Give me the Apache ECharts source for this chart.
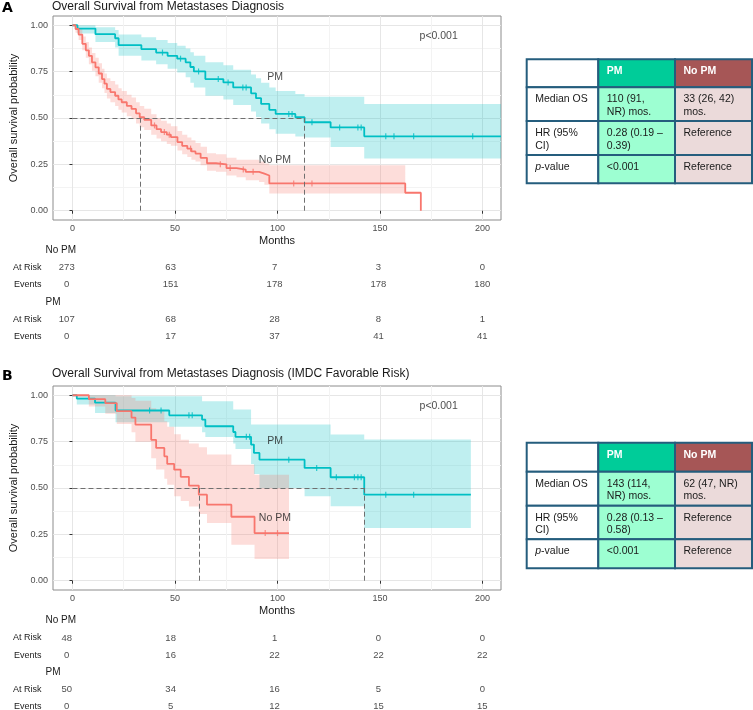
<!DOCTYPE html>
<html><head><meta charset="utf-8">
<script src="https://cdn.jsdelivr.net/npm/echarts@6/dist/echarts.min.js"></script>
<style>html,body{margin:0;padding:0;background:#fff}#c{width:753px;height:710px}</style>
</head><body><div id="c"></div>
<script>
// ================= DATA =================
const xTicks = [0, 50, 100, 150, 200];
const xMinorTicks = [25, 75, 125, 175];
const yTicks = [0, 0.25, 0.5, 0.75, 1];
const yMinorTicks = [0.125, 0.375, 0.625, 0.875];
const yTickLabels = ['0.00', '0.25', '0.50', '0.75', '1.00'];
const riskTimes = [0, 50, 100, 150, 200];

// Panel A: PM
const aPmTime  = [0, 2.4, 11.2, 20.8, 22.5, 33.6, 40.8, 46.4, 51.1, 55.2, 57.5, 59.2, 64.8, 73.6, 78.4, 87.1, 89.5, 92, 96, 99.1, 108.7, 113.2, 125.9, 142.3, 209];
const aPmSurv  = [1, 0.982, 0.952, 0.93, 0.893, 0.871, 0.853, 0.835, 0.82, 0.80, 0.775, 0.751, 0.71, 0.692, 0.665, 0.633, 0.607, 0.576, 0.544, 0.522, 0.504, 0.477, 0.449, 0.401, 0.401];
const aPmLower = [1, 0.955, 0.91, 0.88, 0.835, 0.81, 0.79, 0.765, 0.745, 0.72, 0.69, 0.665, 0.62, 0.60, 0.57, 0.535, 0.505, 0.47, 0.44, 0.415, 0.40, 0.395, 0.343, 0.281, 0.281];
const aPmUpper = [1, 1, 0.99, 0.975, 0.95, 0.935, 0.92, 0.905, 0.89, 0.875, 0.855, 0.835, 0.80, 0.785, 0.76, 0.735, 0.715, 0.69, 0.665, 0.645, 0.63, 0.615, 0.615, 0.576, 0.576];
const aPmCensor = [43.9, 52.7, 61.5, 71.1, 75.9, 83.1, 84.7, 105.5, 107.1, 116.8, 130.3, 139.2, 140.8, 152.8, 156.8, 166.4, 195.2];

// Panel A: No PM
const aNoTime  = [0, 1.5, 3, 4.8, 6.5, 8, 9.5, 11.2, 12.8, 14.4, 15.6, 16.8, 18.5, 20.8, 22.4, 24, 26.5, 28.8, 31, 32.8, 35, 38.4, 41, 43.2, 46, 48, 51.2, 53.5, 56, 58, 60, 62.5, 65.6, 70, 75.1, 80, 84.5, 91, 93.6, 96, 162.3, 169.9];
const aNoSurv  = [1, 0.98, 0.95, 0.90, 0.865, 0.835, 0.80, 0.773, 0.74, 0.71, 0.685, 0.657, 0.64, 0.62, 0.60, 0.585, 0.565, 0.549, 0.525, 0.504, 0.49, 0.46, 0.44, 0.424, 0.41, 0.397, 0.37, 0.35, 0.335, 0.32, 0.308, 0.285, 0.256, 0.25, 0.23, 0.222, 0.21, 0.20, 0.19, 0.147, 0.097, 0];
const aNoLower = [1, 0.96, 0.92, 0.865, 0.825, 0.79, 0.755, 0.725, 0.69, 0.66, 0.635, 0.605, 0.585, 0.565, 0.545, 0.53, 0.51, 0.495, 0.47, 0.45, 0.435, 0.41, 0.39, 0.375, 0.36, 0.35, 0.325, 0.305, 0.29, 0.275, 0.265, 0.245, 0.215, 0.21, 0.19, 0.18, 0.165, 0.155, 0.14, 0.093, 0.093];
const aNoUpper = [1, 1, 0.985, 0.94, 0.91, 0.88, 0.85, 0.825, 0.795, 0.765, 0.74, 0.715, 0.70, 0.68, 0.66, 0.645, 0.625, 0.61, 0.585, 0.565, 0.55, 0.52, 0.50, 0.485, 0.47, 0.455, 0.43, 0.41, 0.395, 0.38, 0.365, 0.345, 0.31, 0.305, 0.285, 0.275, 0.275, 0.265, 0.255, 0.245, 0.245];
const aNoCensor = [40, 44.8, 47.2, 57.6, 72.1, 76.9, 83.3, 88.1, 107.9, 116.8];

const aMedians = [33, 113.2];

// Panel B: PM
const bPmTime  = [0, 2.1, 11, 21, 47.2, 63.2, 64.8, 78.4, 79.5, 87.1, 88.5, 91.2, 113.2, 125.9, 142.3, 194.3];
const bPmSurv  = [1, 0.982, 0.96, 0.918, 0.892, 0.869, 0.833, 0.802, 0.776, 0.734, 0.689, 0.653, 0.608, 0.558, 0.464, 0.464];
const bPmLower = [1, 0.95, 0.905, 0.855, 0.83, 0.80, 0.775, 0.74, 0.71, 0.63, 0.575, 0.50, 0.455, 0.401, 0.284, 0.284];
const bPmUpper = [1, 1, 1, 0.995, 0.995, 0.968, 0.968, 0.923, 0.923, 0.842, 0.842, 0.842, 0.842, 0.788, 0.761, 0.761];
const bPmCensor = [37.6, 43.2, 56.8, 58.4, 84.8, 86.4, 105.5, 119.1, 128.7, 137.5, 139.2, 140.8, 152.8, 166.4];

// Panel B: No PM
const bNoTime  = [0, 8, 16, 21.6, 28.8, 30.7, 38.4, 40.8, 44.8, 46.2, 49.6, 52.8, 56.8, 61.6, 65.6, 77.5, 88.8, 105.6];
const bNoSurv  = [1, 0.979, 0.958, 0.914, 0.88, 0.842, 0.76, 0.716, 0.671, 0.63, 0.599, 0.56, 0.513, 0.464, 0.41, 0.345, 0.257, 0.257];
const bNoLower = [1, 0.94, 0.90, 0.845, 0.80, 0.75, 0.66, 0.60, 0.55, 0.518, 0.455, 0.43, 0.40, 0.36, 0.311, 0.194, 0.117, 0.117];
const bNoUpper = [1, 1, 1, 1, 0.985, 0.97, 0.93, 0.92, 0.86, 0.83, 0.79, 0.76, 0.74, 0.72, 0.68, 0.625, 0.572, 0.572];
const bNoCensor = [94, 100];

const bMedians = [61.6, 142.3];

// Risk tables
const aNoAtRisk = [273, 63, 7, 3, 0];
const aNoEvents = [0, 151, 178, 178, 180];
const aPmAtRisk = [107, 68, 28, 8, 1];
const aPmEvents = [0, 17, 37, 41, 41];
const bNoAtRisk = [48, 18, 1, 0, 0];
const bNoEvents = [0, 16, 22, 22, 22];
const bPmAtRisk = [50, 34, 16, 5, 0];
const bPmEvents = [0, 5, 12, 15, 15];

// Summary tables
const tableHeader = ['', 'PM', 'No PM'];
const tableARows = [
  ['Median OS', '110 (91,\nNR) mos.', '33 (26, 42)\nmos.'],
  ['HR (95%\nCI)', '0.28 (0.19 \u2013\n0.39)', 'Reference'],
  ['{i|p}-value', '<0.001', 'Reference']
];
const tableBRows = [
  ['Median OS', '143 (114,\nNR) mos.', '62 (47, NR)\nmos.'],
  ['HR (95%\nCI)', '0.28 (0.13 \u2013\n0.58)', 'Reference'],
  ['{i|p}-value', '<0.001', 'Reference']
];

const titleA = 'Overall Survival from Metastases Diagnosis';
const titleB = 'Overall Survival from Metastases Diagnosis (IMDC Favorable Risk)';
const pText = 'p<0.001';

// ================= STYLE / LAYOUT =================
const FONT = "'Liberation Sans', Arial, Helvetica, sans-serif";
const COL_PM = '#00BFC4', COL_NO = '#F8766D';
const X_MIN = -9.5, X_MAX = 209, Y_MIN = -0.05, Y_MAX = 1.05;

function pairs(xs, ys) { return xs.map((x, i) => [x, ys[i]]); }
function stepAt(times, surv, t) { let v = surv[0]; for (let i = 0; i < times.length; i++) if (times[i] <= t) v = surv[i]; return v; }

const grids = [
  {left: 47, top: 16, width: 454, height: 204, show: true, borderColor: '#8c8c8c', borderWidth: 1, backgroundColor: '#fff'},
  {left: 47, top: 250, width: 454, height: 86.5},
  {left: 47, top: 386, width: 454, height: 204, show: true, borderColor: '#8c8c8c', borderWidth: 1, backgroundColor: '#fff'},
  {left: 47, top: 620.7, width: 454, height: 86}
];

const xAxes = [], yAxes = [];
function addPlotAxes(gi) {
  xAxes.push({gridIndex: gi, type: 'value', min: X_MIN, max: X_MAX,
    axisLine: {show: false},
    axisTick: {show: true, length: 3, lineStyle: {color: '#333'}, customValues: xTicks},
    axisLabel: {customValues: xTicks, color: '#4d4d4d', fontSize: 9, margin: 4, fontFamily: FONT},
    splitLine: {show: true, lineStyle: {color: '#e6e6e6', width: 1}},
    name: 'Months', nameLocation: 'middle', nameGap: 15,
    nameTextStyle: {color: '#1a1a1a', fontSize: 11, fontFamily: FONT}});
  xAxes.push({gridIndex: gi, type: 'value', min: X_MIN, max: X_MAX, position: 'bottom',
    axisLine: {show: false}, axisTick: {show: false, customValues: xMinorTicks},
    axisLabel: {show: false, customValues: xMinorTicks},
    splitLine: {show: true, lineStyle: {color: '#f3f3f3', width: 1}}});
  yAxes.push({gridIndex: gi, type: 'value', min: Y_MIN, max: Y_MAX,
    axisLine: {show: false},
    axisTick: {show: true, length: 3, lineStyle: {color: '#333'}, customValues: yTicks},
    axisLabel: {customValues: yTicks, color: '#4d4d4d', fontSize: 9, margin: 5, fontFamily: FONT,
      formatter: v => yTickLabels[yTicks.indexOf(v)]},
    splitLine: {show: true, lineStyle: {color: '#e6e6e6', width: 1}},
    name: 'Overall survival probability', nameLocation: 'middle', nameGap: 34,
    nameTextStyle: {color: '#1a1a1a', fontSize: 11, fontFamily: FONT}});
  yAxes.push({gridIndex: gi, type: 'value', min: Y_MIN, max: Y_MAX, position: 'left',
    axisLine: {show: false}, axisTick: {show: false, customValues: yMinorTicks},
    axisLabel: {show: false, customValues: yMinorTicks},
    splitLine: {show: true, lineStyle: {color: '#f3f3f3', width: 1}}});
}
function addRiskAxes(gi) {
  xAxes.push({gridIndex: gi, type: 'value', min: X_MIN, max: X_MAX, show: false});
  yAxes.push({gridIndex: gi, type: 'value', min: 0, max: 5, inverse: true, show: false});
}
addPlotAxes(0); addRiskAxes(1); addPlotAxes(2); addRiskAxes(3);
// axis indices: A main 0, minor 1, risk 2 ; B main 3, minor 4, risk 5

const series = [];
function addKM(ai, times, surv, lower, upper, color, censor) {
  const n = lower.length;
  const rows = times.slice(0, n).map((t, i) => [t, lower[i], upper[i]]);
  // confidence band: one step polygon, points placed through the axis scales
  series.push({type: 'custom', xAxisIndex: ai, yAxisIndex: ai, silent: true, z: 1,
    data: rows, encode: {x: 0, y: [1, 2]},
    renderItem: function (params, api) {
      if (params.dataIndex !== 0) return null;
      const pts = [];
      for (let i = 0; i < rows.length - 1; i++) {
        pts.push(api.coord([rows[i][0], rows[i][2]]));
        pts.push(api.coord([rows[i + 1][0], rows[i][2]]));
      }
      for (let i = rows.length - 2; i >= 0; i--) {
        pts.push(api.coord([rows[i + 1][0], rows[i][1]]));
        pts.push(api.coord([rows[i][0], rows[i][1]]));
      }
      return {type: 'polygon', shape: {points: pts}, style: {fill: color, opacity: 0.25}};
    }});
  series.push({type: 'line', xAxisIndex: ai, yAxisIndex: ai, step: 'end', symbol: 'none', silent: true,
    lineStyle: {color: color, width: 1.8}, data: pairs(times, surv), z: 4});
  series.push({type: 'scatter', xAxisIndex: ai, yAxisIndex: ai, symbol: 'rect', symbolSize: [1.2, 6], silent: true,
    itemStyle: {color: color}, data: censor.map(t => [t, stepAt(times, surv, t)]), z: 4});
}
function addMedians(ai, meds) {
  const mx = Math.max(...meds);
  const lines = [[{coord: [0, 0.5]}, {coord: [mx, 0.5]}]];
  meds.forEach(m => lines.push([{coord: [m, 0]}, {coord: [m, 0.5]}]));
  series.push({type: 'line', xAxisIndex: ai, yAxisIndex: ai, data: [], silent: true, z: 3,
    markLine: {silent: true, symbol: ['none', 'none'], label: {show: false},
      lineStyle: {color: '#707070', type: [5, 3], width: 1}, data: lines}});
}
function addPlotLabels(ai, items) {
  series.push({type: 'scatter', xAxisIndex: ai, yAxisIndex: ai, symbolSize: 1, silent: true, z: 5,
    itemStyle: {color: 'rgba(0,0,0,0)'},
    label: {show: true, position: 'inside', formatter: '{b}', color: '#1a1a1a', fontSize: 10.5, fontFamily: FONT},
    data: items.map(it => ({name: it[0], value: [it[1], it[2]]}))});
}
function addRisk(ai, noAR, noEv, pmAR, pmEv) {
  const d = [];
  riskTimes.forEach((t, i) => {
    d.push({name: String(noAR[i]), value: [t, 1]});
    d.push({name: String(noEv[i]), value: [t, 2]});
    d.push({name: String(pmAR[i]), value: [t, 4]});
    d.push({name: String(pmEv[i]), value: [t, 5]});
  });
  series.push({type: 'scatter', xAxisIndex: ai, yAxisIndex: ai, symbolSize: 1, silent: true,
    itemStyle: {color: 'rgba(0,0,0,0)'},
    label: {show: true, position: 'inside', formatter: '{b}', color: '#1a1a1a', fontSize: 9.5, fontFamily: FONT},
    data: d});
}

addKM(0, aPmTime, aPmSurv, aPmLower, aPmUpper, COL_PM, aPmCensor);
addKM(0, aNoTime, aNoSurv, aNoLower, aNoUpper, COL_NO, aNoCensor);
addMedians(0, aMedians);
addPlotLabels(0, [['PM', 98.8, 0.723], ['No PM', 98.7, 0.272], [pText, 178.6, 0.939]]);
addRisk(2, aNoAtRisk, aNoEvents, aPmAtRisk, aPmEvents);

addKM(3, bPmTime, bPmSurv, bPmLower, bPmUpper, COL_PM, bPmCensor);
addKM(3, bNoTime, bNoSurv, bNoLower, bNoUpper, COL_NO, bNoCensor);
addMedians(3, bMedians);
addPlotLabels(3, [['PM', 98.8, 0.755], ['No PM', 98.7, 0.338], [pText, 178.6, 0.941]]);
addRisk(5, bNoAtRisk, bNoEvents, bPmAtRisk, bPmEvents);

// ---------- graphics: titles, risk row labels, summary tables ----------
const graphic = [];
function txt(x, y, text, opt) {
  graphic.push({type: 'text', x: x, y: y, silent: true, z: 20, style: Object.assign({text: text, fill: '#1a1a1a',
    fontSize: 11, fontFamily: FONT, verticalAlign: 'middle', align: 'left'}, opt || {})});
}
txt(2, 8.5, 'A', {fontSize: 14, fontWeight: 'bold', fontFamily: "'DejaVu Sans', Arial, sans-serif", fill: '#000'});
txt(52, 6.5, titleA, {fontSize: 12});
txt(2, 376, 'B', {fontSize: 14, fontWeight: 'bold', fontFamily: "'DejaVu Sans', Arial, sans-serif", fill: '#000'});
txt(52, 373.5, titleB, {fontSize: 12});

function riskLabels(top, step) {
  const names = ['No PM', 'At Risk', 'Events', 'PM', 'At Risk', 'Events'];
  names.forEach((nm, i) => {
    const y = top + i * step;
    if (i % 3 === 0) txt(45.5, y, nm, {fontSize: 10});
    else txt(41.5, y, nm, {fontSize: 9, align: 'right'});
  });
}
riskLabels(250, 17.3);
riskLabels(620.7, 17.2);

const colX = [526.7, 598.3, 675, 752];
const headFill = ['#ffffff', '#00CC99', '#A65656'];
const bodyFill = ['#ffffff', '#9DFFD2', '#EBDADA'];
const BORDER = '#255D7D';
function buildTable(top, rowH, header, rows) {
  const all = [header].concat(rows);
  let y = top;
  all.forEach((r, ri) => {
    const h = rowH[ri];
    for (let ci = 0; ci < 3; ci++) {
      const x0 = colX[ci], w = colX[ci + 1] - colX[ci];
      graphic.push({type: 'rect', silent: true, z: 10, shape: {x: x0, y: y, width: w, height: h},
        style: {fill: ri === 0 ? headFill[ci] : bodyFill[ci], stroke: BORDER, lineWidth: 2}});
      graphic.push({type: 'text', silent: true, z: 12, x: x0 + 8.5, y: y + 6,
        style: {text: r[ci], fill: ri === 0 ? '#ffffff' : '#1a1a1a', fontSize: 10.5, fontFamily: FONT,
          fontWeight: ri === 0 ? 'bold' : 'normal', lineHeight: 12.5, verticalAlign: 'top', align: 'left',
          rich: {i: {fontStyle: 'italic', fontSize: 10.5, fontFamily: FONT, fill: '#1a1a1a', lineHeight: 12.5}}}});
    }
    y += h;
  });
}
buildTable(59.3, [28, 33.7, 34, 28.3], tableHeader, tableARows);
buildTable(442.7, [29, 34, 33.6, 29], tableHeader, tableBRows);

const chart = echarts.init(document.getElementById('c'), null, {renderer: 'canvas'});
chart.setOption({
  animation: false,
  backgroundColor: '#ffffff',
  textStyle: {fontFamily: FONT},
  grid: grids,
  xAxis: xAxes,
  yAxis: yAxes,
  series: series,
  graphic: graphic
});
</script>
</body></html>
